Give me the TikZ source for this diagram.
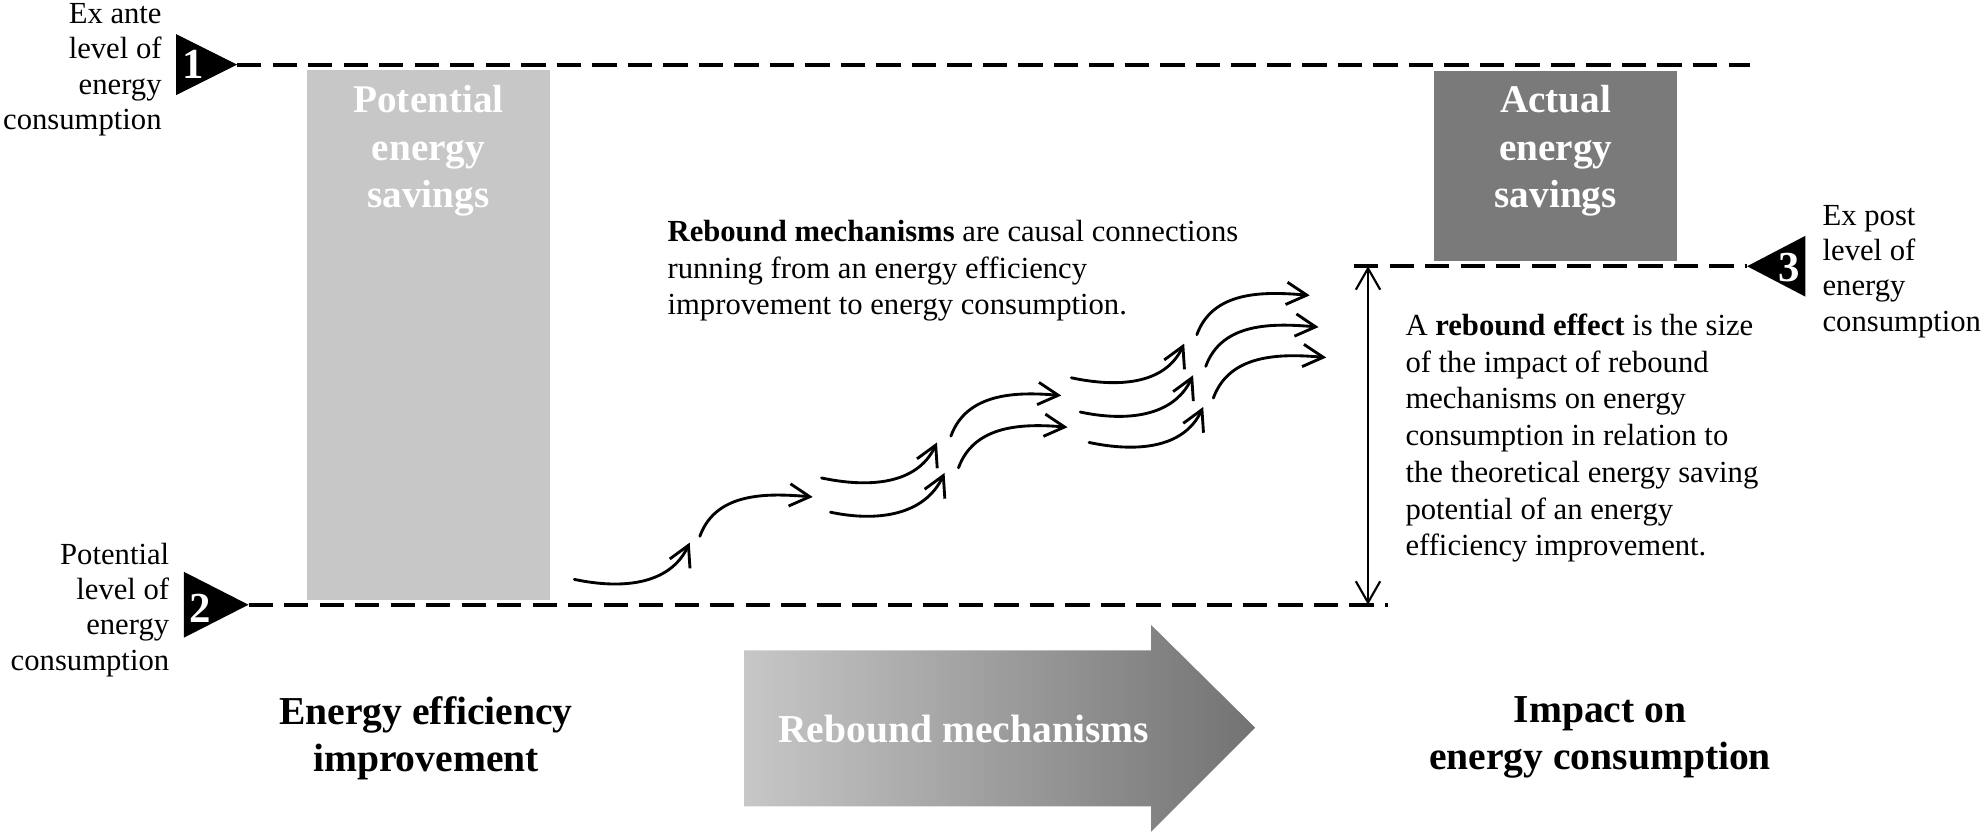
\documentclass[tikz,border=0pt]{standalone}
\usepackage{fontspec}
\setmainfont{Liberation Serif}
\usetikzlibrary{arrows.meta,calc,positioning}

\tikzset{
  levelline/.style={line width=1.1pt, dash pattern=on 2.4mm off 1.1mm},
  num/.style={text=white, font=\fontsize{12}{12}\selectfont\bfseries, inner sep=0pt},
  lbl/.style={font=\fontsize{8.6}{9.9}\selectfont, inner sep=0pt},
  note/.style={font=\fontsize{8.6}{10.3}\selectfont, inner sep=0pt, align=left},
  boxtxt/.style={text=white, font=\fontsize{11}{13.3}\selectfont\bfseries, align=center, inner sep=0pt},
  heading/.style={font=\fontsize{11.1}{13.2}\selectfont\bfseries, align=center, inner sep=0pt},
  mech/.style={line width=0.8pt, line cap=round, -{Straight Barb[length=2mm,width=2.2mm]}},
  gapspan/.style={line width=0.6pt, {Straight Barb[length=2.1mm,width=2.4mm]}-{Straight Barb[length=2.1mm,width=2.4mm]}},
}

\begin{document}
\begin{tikzpicture}[x=0.0125cm,y=0.0125cm]
  \useasboundingbox (0,0) rectangle (1568,660);
  % Savings boxes
  \coordinate (P1) at (242,605); \coordinate (P2) at (434,187);
  \fill[black!22] (P1) rectangle (P2);
  \node[boxtxt, anchor=north] (pot) at (338,593) {Potential\\energy\\savings};
  \coordinate (Q1) at (1131,604); \coordinate (Q2) at (1323,454);
  \fill[black!52] (Q1) rectangle (Q2);
  \node[boxtxt, anchor=north] (act) at (1227,593) {Actual\\energy\\savings};
  % Level 1: ex ante
  \coordinate (T1) at (187,609); \coordinate (E1) at (1380,609);
  \fill (139,633) -- (T1) -- (139,585) -- cycle;
  \node[num] (n1) at (152,609) {1};
  \draw[levelline] (T1) -- (E1);
  \node[lbl, align=right, anchor=east] (exante) at (128,605) {Ex ante\\level of\\energy\\consumption};
  % Level 2: potential
  \coordinate (T2) at (196,183); \coordinate (E2) at (1095,183);
  \fill (145,209) -- (T2) -- (145,157) -- cycle;
  \node[num] (n2) at (158,180) {2};
  \draw[levelline] (T2) -- (E2);
  \node[lbl, align=right, anchor=east] (potlevel) at (134,179) {Potential\\level of\\energy\\consumption};
  % Level 3: ex post
  \coordinate (T3) at (1378,450); \coordinate (S3) at (1068,450);
  \fill (1424,474) -- (T3) -- (1424,426) -- cycle;
  \node[num] (n3) at (1411,449) {3};
  \draw[levelline] (S3) -- (T3);
  \node[lbl, align=left, anchor=west] (expost) at (1437,446) {Ex post\\level of\\energy\\consumption};
  % Size of the rebound effect
  \coordinate (V1) at (1079,450); \coordinate (V2) at (1079,183);
  \draw[gapspan] (V1) -- (V2);
  \node[note, anchor=north west] (efftext) at (1108,413) {A \textbf{rebound effect} is the size\\of the impact of rebound\\mechanisms on energy\\consumption in relation to\\the theoretical energy saving\\potential of an energy\\efficiency improvement.};
  \node[note, anchor=north west] (mechtext) at (526,487) {\textbf{Rebound mechanisms} are causal connections\\running from an energy efficiency\\improvement to energy consumption.};
  % Chain of rebound mechanisms
  \coordinate (a1) at (453,203); \coordinate (a2) at (544,232);
  \coordinate (b1) at (552,237); \coordinate (b2) at (641,268);
  \coordinate (c1) at (648,283); \coordinate (c2) at (739,311);
  \coordinate (d1) at (655,256); \coordinate (d2) at (745,287);
  \coordinate (e1) at (750,316); \coordinate (e2) at (837,348);
  \coordinate (f1) at (756,291); \coordinate (f2) at (842,323);
  \coordinate (g1) at (845,362); \coordinate (g2) at (934,389);
  \coordinate (h1) at (852,335); \coordinate (h2) at (941,364);
  \coordinate (k1) at (859,311); \coordinate (k2) at (949,339);
  \coordinate (l1) at (944,396); \coordinate (l2) at (1033,427);
  \coordinate (m1) at (951,371); \coordinate (m2) at (1040,402);
  \coordinate (o1) at (957,346); \coordinate (o2) at (1046,378);
  \draw[mech] (a1) to[out=-12,in=245] (a2);
  \draw[mech] (b1) to[out=70,in=175] (b2);
  \draw[mech] (c1) to[out=-12,in=245] (c2);
  \draw[mech] (d1) to[out=-12,in=245] (d2);
  \draw[mech] (e1) to[out=70,in=175] (e2);
  \draw[mech] (f1) to[out=70,in=175] (f2);
  \draw[mech] (g1) to[out=-12,in=245] (g2);
  \draw[mech] (h1) to[out=-12,in=245] (h2);
  \draw[mech] (k1) to[out=-12,in=245] (k2);
  \draw[mech] (l1) to[out=70,in=175] (l2);
  \draw[mech] (m1) to[out=70,in=175] (m2);
  \draw[mech] (o1) to[out=70,in=175] (o2);
  % Bottom row
  \shade[left color=black!22, right color=black!55] (587,147) -- (908,147) -- (908,167) -- (990,86) -- (908,4) -- (908,24) -- (587,24) -- cycle;
  \node[heading, text=white] (rmarrow) at (760,85) {Rebound mechanisms};
  \node[heading] (eei) at (336,78) {Energy efficiency\\improvement};
  \node[heading] (impact) at (1262,78) {Impact on\\energy consumption};
\end{tikzpicture}
\end{document}
